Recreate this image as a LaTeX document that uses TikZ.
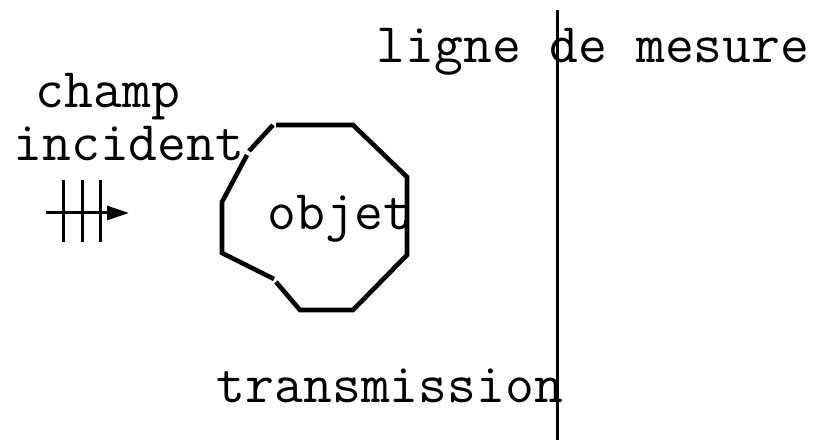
\documentclass[tikz,border=0pt]{standalone}
\usepackage{fontspec}
\usetikzlibrary{arrows.meta}
\begin{document}
\begin{tikzpicture}[x=0.5pt,y=-0.5pt,
  lbl/.style={font=\fontsize{28}{32}\ttfamily,inner sep=0pt,anchor=base},
  obj/.style={line width=2.3pt,line cap=butt},
  meas/.style={line width=1.5pt},
  wave/.style={line width=1.5pt}]
\useasboundingbox (0,0) rectangle (816,443);
% measurement line
\coordinate (mtop) at (557,10);
\coordinate (mbot) at (557,440);
\draw[meas] (mtop) -- (mbot);
% labels
\node[lbl] (ligne) at (593,63) {ligne de mesure};
\node[lbl] (champ) at (108,108) {champ};
\node[lbl] (incident) at (129,161) {incident};
\node[lbl] (trans) at (390,403) {transmission};
% object outline
\coordinate (o1) at (276,125);
\coordinate (o2) at (353,125);
\coordinate (o3) at (407,177);
\coordinate (o4) at (407,255);
\coordinate (o5) at (353,310);
\coordinate (o6) at (300,310);
\coordinate (o7) at (276,282);
\coordinate (o7b) at (274,279);
\coordinate (o8) at (222,253);
\coordinate (o9) at (222,202);
\coordinate (o10) at (249,151);
\coordinate (o10b) at (247,155);
\coordinate (o11) at (273,125);
\draw[obj] (o1) -- (o2) -- (o3) -- (o4) -- (o5) -- (o6) -- (o7);
\draw[obj] (o7b) -- (o8) -- (o9) -- (o10b);
\draw[obj] (o10) -- (o11);
\node[lbl] (objet) at (340,230) {objet};
% incident field symbol
\coordinate (a0) at (46,213);
\coordinate (a1) at (129,213);
\draw[wave,-{Triangle[length=11pt,width=7pt]}] (a0) -- (a1);
\coordinate (t1a) at (63,180); \coordinate (t1b) at (63,242);
\coordinate (t2a) at (82,180); \coordinate (t2b) at (82,242);
\coordinate (t3a) at (100,180); \coordinate (t3b) at (100,242);
\draw[wave] (t1a) -- (t1b) (t2a) -- (t2b) (t3a) -- (t3b);
\end{tikzpicture}
\end{document}
